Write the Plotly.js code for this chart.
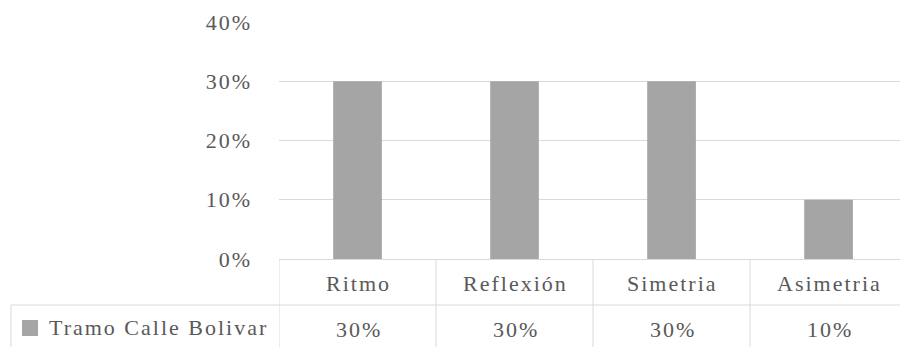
<!DOCTYPE html>
<html>
<head>
<meta charset="utf-8">
<script src="https://cdn.plot.ly/plotly-3.0.1.min.js"></script>
<style>
html,body{margin:0;padding:0;background:#fff;}
#chart{width:900px;height:347px;}
#chart .annotation-text, #chart .ytick text { letter-spacing: 2px; }
</style>
</head>
<body>
<div id="chart"></div>
<script>
var categories = ["Ritmo", "Reflexión", "Simetria", "Asimetria"];
var seriesName = "Tramo Calle Bolivar";
var values = [0.30, 0.30, 0.30, 0.10];
var yTickVals = [0, 0.1, 0.2, 0.3, 0.4];
var yTickText = ["0%", "10%", "20%", "30%", "40%"];

var W = 900, H = 347;
var mL = 279, mR = 0, mT = 22, mB = 88;
var plotW = W - mL - mR, plotH = H - mT - mB;
function px(x){ return (x - mL) / plotW; }
function py(y){ return (H - mB - y) / plotH; }

var FONT = "Liberation Serif";
var TXT = "#595959";
var LINE = "#d9d9d9";
var FS = 22;

var shapes = [];
for (var i = 0; i < categories.length; i++) {
  shapes.push({type:"line", xref:"x", yref:"paper", x0:i-0.5, x1:i-0.5, y0:0, y1:py(H+5), line:{color:LINE, width:1}});
}
shapes.push({type:"line", xref:"paper", yref:"paper", x0:px(11), x1:1, y0:py(305), y1:py(305), line:{color:LINE, width:1}});
shapes.push({type:"line", xref:"paper", yref:"paper", x0:px(11), x1:px(11), y0:py(305), y1:py(H+5), line:{color:LINE, width:1}});
shapes.push({type:"rect", xref:"paper", yref:"paper", x0:px(22), x1:px(38), y0:py(336), y1:py(320), fillcolor:"#a5a5a5", line:{width:0}});

var annotations = [];
categories.forEach(function(c, i){
  annotations.push({x:c, xref:"x", xshift:1, y:py(283), yref:"paper", text:c, showarrow:false, xanchor:"center", yanchor:"middle", font:{family:FONT, size:FS, color:TXT}});
  annotations.push({x:c, xref:"x", xshift:1, y:py(329), yref:"paper", text:Math.round(values[i]*100)+"%", showarrow:false, xanchor:"center", yanchor:"middle", font:{family:FONT, size:FS, color:TXT}});
});
annotations.push({x:px(159), xref:"paper", y:py(327), yref:"paper", text:seriesName, showarrow:false, xanchor:"center", yanchor:"middle", font:{family:FONT, size:FS, color:TXT}});

var trace = {
  type:"bar", x:categories, y:values, name:seriesName,
  marker:{color:"#a5a5a5"}, width:0.31, showlegend:false, hoverinfo:"none"
};

var layout = {
  width:W, height:H,
  margin:{l:mL, r:mR, t:mT, b:mB, pad:0},
  paper_bgcolor:"#fff", plot_bgcolor:"#fff",
  showlegend:false,
  font:{family:FONT, size:FS, color:TXT},
  xaxis:{type:"category", range:[-0.5, 3.455], showticklabels:false, showgrid:false, zeroline:false, showline:false, ticks:""},
  yaxis:{range:[0, 0.4], tickvals:yTickVals, ticktext:yTickText, showgrid:true, gridcolor:LINE, gridwidth:1,
         zeroline:true, zerolinecolor:LINE, zerolinewidth:1, showline:false, ticks:"", ticklabelstandoff:26,
         tickfont:{family:FONT, size:FS, color:TXT}},
  shapes:shapes,
  annotations:annotations
};

Plotly.newPlot("chart", [trace], layout, {displayModeBar:false, staticPlot:true});
</script>
</body>
</html>
